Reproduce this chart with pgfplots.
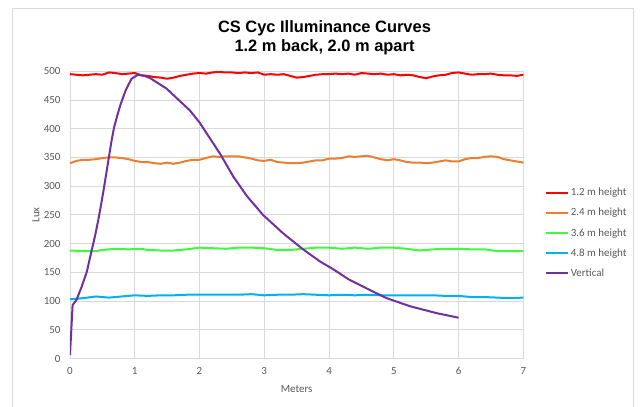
\documentclass[border=0pt]{standalone}
\usepackage{fontspec}
\setmainfont{Carlito}
\newfontfamily\titlefont{Liberation Sans}
\usepackage{pgfplots}
\pgfplotsset{compat=1.18}
\definecolor{gridc}{RGB}{217,217,217}
\definecolor{txt}{RGB}{89,89,89}
\definecolor{cred}{RGB}{255,0,0}
\definecolor{corange}{RGB}{237,125,49}
\definecolor{cgreen}{RGB}{60,250,60}
\definecolor{cblue}{RGB}{0,176,240}
\definecolor{cpurple}{RGB}{112,48,160}
\begin{document}
\begin{tikzpicture}
\useasboundingbox (-70bp,-48.5bp) rectangle (572bp,358.5bp);
\draw[gridc, line width=0.8bp] (-58bp,-60bp) -- (-58bp,350.5bp) -- (563bp,350.5bp) -- (563bp,-60bp);
\node[font=\titlefont\bfseries\fontsize{16.5}{19}\selectfont, align=center, text=black] at (254.5bp,320.5bp) {CS Cyc Illuminance Curves\\1.2 m back, 2.0 m apart};
\begin{axis}[
  at={(0,0)}, anchor=south west, scale only axis,
  width=453.3bp, height=287.2bp,
  xmin=0, xmax=7, ymin=0, ymax=500,
  xtick={0,1,...,7}, ytick={0,50,...,500},
  grid=major, grid style={gridc, line width=0.8bp},
  axis line style={gridc, line width=0.8bp},
  major tick length=0pt,
  /pgf/number format/assume math mode=true,
  ticklabel style={font=\fontsize{11}{13}\selectfont, text=txt},
  yticklabel style={xshift=-6bp},
  xticklabel style={yshift=-5bp},
  xlabel={Meters}, ylabel={Lux},
  label style={font=\fontsize{11}{13}\selectfont, text=txt},
  xlabel style={at={(axis description cs:0.5,-0.106)}, anchor=center},
  ylabel style={at={(axis description cs:-0.075,0.5)}, anchor=center},
  legend style={at={(axis description cs:1.048,0.437)}, anchor=west, draw=none, fill=none, inner sep=0pt, row sep=8bp, font=\fontsize{11}{13}\selectfont, text=txt, nodes={inner sep=1.5bp}},
  legend cell align=left,
  legend image code/.code={\draw[#1] (0bp,0bp) -- (22bp,0bp);},
  every axis plot/.append style={line width=2bp, line join=round},
]
\addplot[cred] coordinates {(0,495)(0.1,494)(0.2,493)(0.3,494)(0.4,495)(0.5,494)(0.6,498)(0.7,497)(0.8,495)(0.9,496)(1.0,497)(1.1,493)(1.2,492)(1.3,490)(1.4,489)(1.5,487)(1.6,489)(1.7,492)(1.8,494)(1.9,496)(2.0,497)(2.1,496)(2.2,498)(2.3,499)(2.4,498)(2.5,498)(2.6,497)(2.7,498)(2.8,497)(2.9,498)(3.0,494)(3.1,495)(3.2,494)(3.3,495)(3.4,492)(3.5,489)(3.6,490)(3.7,492)(3.8,494)(3.9,495)(4.0,495)(4.1,496)(4.2,495)(4.3,496)(4.4,494)(4.5,497)(4.6,496)(4.7,495)(4.8,496)(4.9,494)(5.0,495)(5.1,493)(5.2,494)(5.3,493)(5.4,490)(5.5,488)(5.6,491)(5.7,493)(5.8,494)(5.9,497)(6.0,498)(6.1,496)(6.2,494)(6.3,495)(6.4,495)(6.5,496)(6.6,494)(6.7,493)(6.8,493)(6.9,492)(7.0,494)};
\addlegendentry{1.2 m height}
\addplot[corange] coordinates {(0,340)(0.1,344)(0.2,346)(0.3,346)(0.4,347)(0.5,349)(0.6,350)(0.7,350)(0.8,349)(0.9,347)(1.0,344)(1.1,342)(1.2,342)(1.3,340)(1.4,339)(1.5,341)(1.6,339)(1.7,341)(1.8,344)(1.9,346)(2.0,346)(2.1,349)(2.2,352)(2.3,351)(2.4,352)(2.5,352)(2.6,352)(2.7,350)(2.8,348)(2.9,345)(3.0,344)(3.1,346)(3.2,342)(3.3,341)(3.4,340)(3.5,340)(3.6,341)(3.7,343)(3.8,345)(3.9,345)(4.0,348)(4.1,348)(4.2,349)(4.3,352)(4.4,351)(4.5,352)(4.6,353)(4.7,350)(4.8,347)(4.9,345)(5.0,347)(5.1,345)(5.2,342)(5.3,341)(5.4,341)(5.5,340)(5.6,341)(5.7,343)(5.8,345)(5.9,343)(6.0,343)(6.1,347)(6.2,349)(6.3,349)(6.4,351)(6.5,352)(6.6,351)(6.7,347)(6.8,345)(6.9,343)(7.0,341)};
\addlegendentry{2.4 m height}
\addplot[cgreen] coordinates {(0,188)(0.2,187)(0.4,187)(0.5,189)(0.7,191)(0.9,190)(1.1,191)(1.2,189)(1.4,188)(1.6,188)(1.8,190)(2.0,193)(2.2,192)(2.4,191)(2.6,193)(2.8,193)(3.0,192)(3.2,189)(3.4,189)(3.6,191)(3.8,193)(4.0,193)(4.2,191)(4.4,193)(4.6,191)(4.8,193)(5.0,193)(5.2,191)(5.4,188)(5.6,190)(5.8,191)(6.0,191)(6.2,190)(6.4,190)(6.6,187)(6.8,187)(7.0,187)};
\addlegendentry{3.6 m height}
\addplot[cblue] coordinates {(0,103)(0.2,105)(0.4,108)(0.6,106)(0.8,108)(1.0,110)(1.2,109)(1.4,110)(1.6,110)(1.8,111)(2.0,111)(2.2,111)(2.4,111)(2.6,111)(2.8,112)(3.0,110)(3.2,111)(3.4,111)(3.6,112)(3.8,111)(4.0,110)(4.2,111)(4.4,110)(4.6,111)(4.8,110)(5.0,110)(5.2,110)(5.4,110)(5.6,110)(5.8,109)(6.0,109)(6.2,107)(6.4,107)(6.6,106)(6.8,105)(7.0,106)};
\addlegendentry{4.8 m height}
\addplot[cpurple] coordinates {(0,6)(0.04,93)(0.1,102)(0.18,125)(0.26,151)(0.33,186)(0.39,215)(0.44,243)(0.48,268)(0.52,294)(0.56,322)(0.60,350)(0.64,378)(0.68,402)(0.73,423)(0.78,442)(0.86,467)(0.95,487)(1.05,494)(1.15,492)(1.24,488)(1.35,480)(1.49,470)(1.65,453)(1.85,432)(2.0,411)(2.11,392)(2.32,356)(2.52,317)(2.73,283)(2.98,250)(3.29,218)(3.6,190)(3.86,169)(4.07,155)(4.3,138)(4.58,122)(4.89,105)(5.25,91)(5.66,79)(6.0,71)};
\addlegendentry{Vertical}
\end{axis}
\end{tikzpicture}
\end{document}
